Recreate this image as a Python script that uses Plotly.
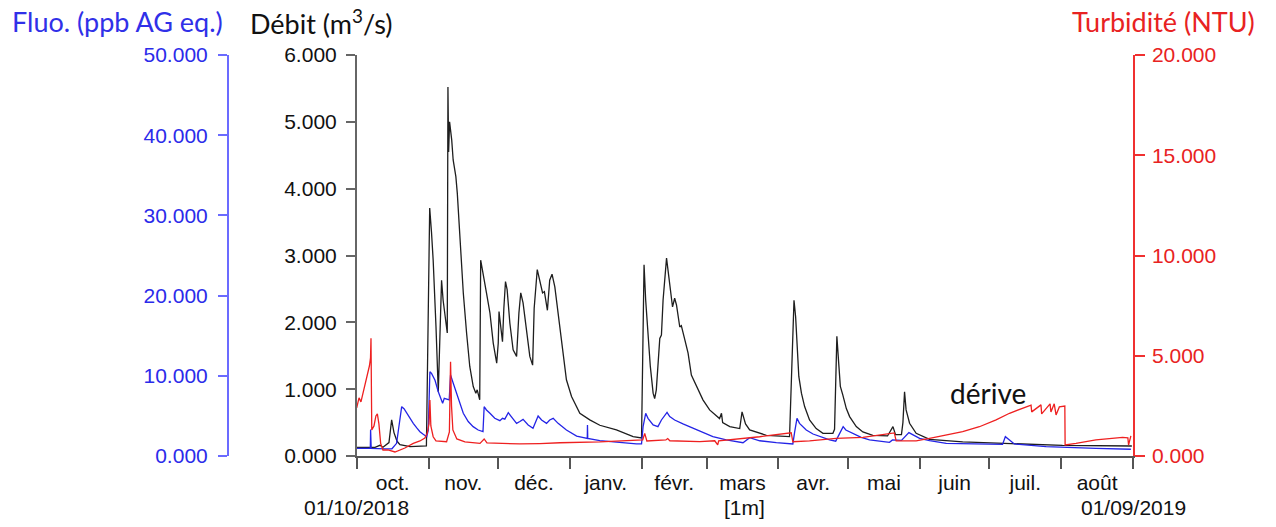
import plotly.graph_objects as go
import pandas as pd

# ---------------- data ----------------
month_starts = ["2018-10-01", "2018-11-01", "2018-12-01", "2019-01-01", "2019-02-01",
                "2019-03-01", "2019-04-01", "2019-05-01", "2019-06-01", "2019-07-01",
                "2019-08-01", "2019-09-01"]
month_labels = ["oct.", "nov.", "déc.", "janv.", "févr.", "mars", "avr.", "mai",
                "juin", "juil.", "août"]

debit_t = ["2018-10-01 00:00", "2018-10-08 22:00", "2018-10-11 00:00", "2018-10-12 08:00",
           "2018-10-14 22:00", "2018-10-16 02:00", "2018-10-17 02:00", "2018-10-18 10:00",
           "2018-10-19 16:00", "2018-10-24 00:00", "2018-10-31 02:00", "2018-10-31 17:00",
           "2018-11-01 12:00", "2018-11-02 07:00", "2018-11-03 00:00", "2018-11-04 05:00",
           "2018-11-05 05:00", "2018-11-05 22:00", "2018-11-06 15:00", "2018-11-07 07:00",
           "2018-11-08 10:00", "2018-11-09 02:00", "2018-11-09 09:00", "2018-11-09 16:00",
           "2018-11-10 02:00", "2018-11-11 00:00", "2018-11-11 15:00", "2018-11-12 19:00",
           "2018-11-13 10:00", "2018-11-14 05:00", "2018-11-15 07:00", "2018-11-16 00:00",
           "2018-11-17 10:00", "2018-11-18 19:00", "2018-11-20 07:00", "2018-11-21 10:00",
           "2018-11-22 00:00", "2018-11-22 22:00", "2018-11-23 02:00", "2018-11-23 12:00",
           "2018-11-24 14:00", "2018-11-26 00:00", "2018-11-27 12:00", "2018-11-28 22:00",
           "2018-11-30 10:00", "2018-12-01 02:00", "2018-12-01 10:00", "2018-12-02 22:00",
           "2018-12-03 12:00", "2018-12-04 05:00", "2018-12-04 22:00", "2018-12-06 02:00",
           "2018-12-07 12:00", "2018-12-09 00:00", "2018-12-10 00:00", "2018-12-10 19:00",
           "2018-12-11 19:00", "2018-12-13 07:00", "2018-12-14 17:00", "2018-12-15 22:00",
           "2018-12-16 14:00", "2018-12-17 22:00", "2018-12-19 00:00", "2018-12-20 05:00",
           "2018-12-21 00:00", "2018-12-22 07:00", "2018-12-23 07:00", "2018-12-24 07:00",
           "2018-12-25 12:00", "2018-12-26 22:00", "2018-12-28 10:00", "2018-12-30 12:00",
           "2019-01-01 17:00", "2019-01-05 07:00", "2019-01-09 14:00", "2019-01-13 22:00",
           "2019-01-21 02:00", "2019-01-28 07:00", "2019-01-31 22:00", "2019-02-01 10:00",
           "2019-02-02 00:00", "2019-02-02 17:00", "2019-02-03 17:00", "2019-02-04 17:00",
           "2019-02-05 22:00", "2019-02-06 14:00", "2019-02-07 07:00", "2019-02-08 00:00",
           "2019-02-08 19:00", "2019-02-09 12:00", "2019-02-10 05:00", "2019-02-11 17:00",
           "2019-02-13 02:00", "2019-02-14 07:00", "2019-02-15 05:00", "2019-02-16 00:00",
           "2019-02-17 10:00", "2019-02-18 02:00", "2019-02-19 14:00", "2019-02-21 00:00",
           "2019-02-22 10:00", "2019-02-24 14:00", "2019-02-27 10:00", "2019-03-02 07:00",
           "2019-03-06 14:00", "2019-03-07 10:00", "2019-03-07 22:00", "2019-03-11 00:00",
           "2019-03-15 07:00", "2019-03-16 07:00", "2019-03-17 19:00", "2019-03-19 14:00",
           "2019-03-26 19:00", "2019-04-05 19:00", "2019-04-06 22:00", "2019-04-07 17:00",
           "2019-04-08 10:00", "2019-04-09 00:00", "2019-04-09 19:00", "2019-04-10 22:00",
           "2019-04-12 07:00", "2019-04-14 10:00", "2019-04-17 07:00", "2019-04-20 05:00",
           "2019-04-24 12:00", "2019-04-25 05:00", "2019-04-25 17:00", "2019-04-26 05:00",
           "2019-04-27 00:00", "2019-04-27 17:00", "2019-04-28 19:00", "2019-04-30 07:00",
           "2019-05-01 17:00", "2019-05-04 14:00", "2019-05-07 10:00", "2019-05-11 17:00",
           "2019-05-18 02:00", "2019-05-20 10:00", "2019-05-21 12:00", "2019-05-24 02:00",
           "2019-05-24 17:00", "2019-05-25 10:00", "2019-05-26 02:00", "2019-05-27 14:00",
           "2019-05-30 10:00", "2019-06-05 05:00", "2019-06-19 12:00", "2019-07-03 22:00",
           "2019-07-18 07:00", "2019-08-01 14:00", "2019-08-31 12:00"]
debit_v = [0.13, 0.13, 0.16, 0.13,
           0.20, 0.54, 0.35, 0.22,
           0.17, 0.14, 0.15, 1.50,
           3.71, 3.34, 2.93, 1.94,
           0.96, 1.80, 2.63, 2.33,
           1.99, 1.84, 5.52, 4.55,
           5.00, 4.73, 4.43, 4.18,
           3.93, 3.43, 2.83, 2.44,
           1.84, 1.34, 1.04, 0.94,
           0.99, 0.87, 0.84, 2.93,
           2.74, 2.44, 2.14, 1.69,
           1.39, 1.69, 2.16, 1.71,
           2.21, 2.61, 2.49, 1.99,
           1.59, 1.49, 2.14, 2.44,
           2.29, 1.84, 1.49, 1.36,
           2.21, 2.79, 2.63, 2.44,
           2.46, 2.18, 2.63, 2.72,
           2.53, 2.14, 1.64, 1.14,
           0.89, 0.64, 0.54, 0.46,
           0.39, 0.29, 0.27, 1.80,
           2.86, 2.33, 1.84, 1.34,
           0.94, 0.86, 0.99, 1.44,
           1.76, 1.81, 2.33, 2.96,
           2.58, 2.23, 2.36, 2.26,
           1.93, 1.95, 1.74, 1.54,
           1.21, 1.04, 0.84, 0.69,
           0.56, 0.64, 0.50, 0.44,
           0.41, 0.66, 0.48, 0.39,
           0.31, 0.29, 1.50, 2.33,
           2.08, 1.59, 1.19, 0.94,
           0.74, 0.54, 0.41, 0.34,
           0.34, 0.40, 1.20, 1.79,
           1.39, 1.04, 0.91, 0.71,
           0.59, 0.44, 0.36, 0.31,
           0.30, 0.44, 0.32, 0.32,
           0.50, 0.96, 0.69, 0.49,
           0.34, 0.25, 0.21, 0.19,
           0.18, 0.16, 0.15]

fluo_t = ["2018-10-01 00:00", "2018-10-06 21:00", "2018-10-07 00:00", "2018-10-07 06:00",
          "2018-10-13 05:00", "2018-10-16 05:00", "2018-10-18 05:00", "2018-10-19 10:00",
          "2018-10-20 10:00", "2018-10-21 10:00", "2018-10-22 14:00", "2018-10-24 00:00",
          "2018-10-25 10:00", "2018-10-26 22:00", "2018-10-28 07:00", "2018-10-29 17:00",
          "2018-10-31 05:00", "2018-10-31 21:00", "2018-11-01 14:00", "2018-11-02 07:00",
          "2018-11-03 19:00", "2018-11-05 05:00", "2018-11-06 05:00", "2018-11-07 02:00",
          "2018-11-07 19:00", "2018-11-09 02:00", "2018-11-09 22:00", "2018-11-10 05:00",
          "2018-11-10 12:00", "2018-11-11 15:00", "2018-11-13 03:00", "2018-11-14 12:00",
          "2018-11-16 00:00", "2018-11-18 03:00", "2018-11-20 06:00", "2018-11-22 10:00",
          "2018-11-24 12:00", "2018-11-25 00:00", "2018-11-26 00:00", "2018-11-27 12:00",
          "2018-11-29 14:00", "2018-12-01 19:00", "2018-12-02 22:00", "2018-12-03 22:00",
          "2018-12-05 10:00", "2018-12-07 07:00", "2018-12-09 00:00", "2018-12-10 10:00",
          "2018-12-11 19:00", "2018-12-14 00:00", "2018-12-16 02:00", "2018-12-18 07:00",
          "2018-12-19 19:00", "2018-12-21 22:00", "2018-12-23 07:00", "2018-12-24 19:00",
          "2018-12-26 22:00", "2018-12-30 12:00", "2019-01-03 22:00", "2019-01-08 12:00",
          "2019-01-08 14:00", "2019-01-08 17:00", "2019-01-13 22:00", "2019-01-18 05:00",
          "2019-01-29 17:00", "2019-01-31 22:00", "2019-02-01 14:00", "2019-02-02 17:00",
          "2019-02-03 17:00", "2019-02-05 22:00", "2019-02-08 00:00", "2019-02-09 12:00",
          "2019-02-11 22:00", "2019-02-13 02:00", "2019-02-15 05:00", "2019-02-18 19:00",
          "2019-02-23 03:00", "2019-02-27 10:00", "2019-03-03 17:00", "2019-03-09 12:00",
          "2019-03-13 19:00", "2019-03-16 17:00", "2019-03-19 14:00", "2019-03-23 22:00",
          "2019-03-31 02:00", "2019-04-07 05:00", "2019-04-08 00:00", "2019-04-09 00:00",
          "2019-04-10 02:00", "2019-04-13 00:00", "2019-04-15 22:00", "2019-04-18 19:00",
          "2019-04-23 02:00", "2019-04-25 17:00", "2019-04-26 14:00", "2019-04-28 22:00",
          "2019-04-30 02:00", "2019-05-03 05:00", "2019-05-06 17:00", "2019-05-10 07:00",
          "2019-05-18 22:00", "2019-05-20 05:00", "2019-05-24 02:00", "2019-05-27 07:00",
          "2019-05-29 00:00", "2019-05-31 22:00", "2019-06-05 05:00", "2019-06-12 10:00",
          "2019-07-06 17:00", "2019-07-07 22:00", "2019-07-11 19:00", "2019-07-25 12:00",
          "2019-08-16 00:00", "2019-08-31 02:00"]
fluo_v = [0.96, 0.96, 3.30, 0.96,
          0.90, 0.90, 1.58, 4.49,
          6.15, 5.90, 5.32, 4.70,
          4.07, 3.50, 3.03, 2.70,
          2.41, 3.20, 10.50, 10.30,
          9.45, 8.02, 7.20, 6.57,
          7.20, 7.05, 7.00, 8.60,
          10.10, 9.10, 7.82, 6.57,
          5.32, 4.30, 3.66, 3.24,
          3.03, 6.15, 5.74, 5.32,
          4.70, 4.40, 4.70, 4.60,
          5.40, 4.70, 4.07, 4.30,
          4.57, 3.87, 3.45, 4.99,
          4.49, 4.07, 4.49, 4.70,
          4.07, 3.24, 2.49, 2.20,
          3.87, 2.20, 1.91, 1.78,
          1.50, 1.50, 3.66, 5.32,
          4.70, 3.87, 3.66, 4.49,
          5.45, 4.91, 4.49, 4.00,
          3.45, 2.91, 2.41, 2.00,
          1.75, 1.66, 2.28, 1.90,
          1.66, 1.50, 3.00, 4.70,
          4.07, 3.24, 2.74, 2.41,
          2.00, 1.85, 2.33, 3.66,
          3.24, 2.83, 2.33, 2.00,
          1.70, 2.00, 1.95, 2.91,
          2.62, 2.20, 1.91, 1.58,
          1.45, 2.41, 1.50, 1.16,
          0.96, 0.84]

turb_t = ["2018-10-01 00:00", "2018-10-02 00:00", "2018-10-02 20:00", "2018-10-04 03:00",
          "2018-10-05 10:00", "2018-10-06 12:00", "2018-10-06 23:00", "2018-10-07 04:00",
          "2018-10-07 12:00", "2018-10-08 11:00", "2018-10-09 07:00", "2018-10-09 22:00",
          "2018-10-10 14:00", "2018-10-11 08:00", "2018-10-12 08:00", "2018-10-14 12:00",
          "2018-10-17 12:00", "2018-10-19 16:00", "2018-10-21 19:00", "2018-10-25 10:00",
          "2018-10-28 07:00", "2018-10-30 10:00", "2018-10-31 10:00", "2018-11-01 05:00",
          "2018-11-01 14:00", "2018-11-02 00:00", "2018-11-03 00:00", "2018-11-04 05:00",
          "2018-11-08 19:00", "2018-11-10 00:00", "2018-11-10 12:00", "2018-11-10 22:00",
          "2018-11-11 12:00", "2018-11-13 05:00", "2018-11-16 17:00", "2018-11-23 05:00",
          "2018-11-25 00:00", "2018-11-26 05:00", "2018-12-10 10:00", "2018-12-19 00:00",
          "2018-12-27 17:00", "2019-01-13 22:00", "2019-01-31 02:00", "2019-02-01 10:00",
          "2019-02-02 07:00", "2019-02-03 05:00", "2019-02-11 10:00", "2019-02-12 05:00",
          "2019-02-13 03:00", "2019-02-26 00:00", "2019-03-04 12:00", "2019-03-05 19:00",
          "2019-03-06 05:00", "2019-03-15 07:00", "2019-03-23 22:00", "2019-04-06 12:00",
          "2019-04-07 05:00", "2019-04-14 10:00", "2019-04-25 22:00", "2019-05-07 10:00",
          "2019-05-19 14:00", "2019-05-21 00:00", "2019-05-21 19:00", "2019-05-30 10:00",
          "2019-06-05 05:00", "2019-06-12 10:00", "2019-06-19 12:00", "2019-06-26 17:00",
          "2019-07-03 22:00", "2019-07-09 17:00", "2019-07-15 10:00", "2019-07-19 00:00",
          "2019-07-19 07:00", "2019-07-23 07:00", "2019-07-23 14:00", "2019-07-27 05:00",
          "2019-07-27 14:00", "2019-07-29 00:00", "2019-07-29 19:00", "2019-07-31 05:00",
          "2019-08-02 14:00", "2019-08-02 17:00", "2019-08-07 10:00", "2019-08-16 00:00",
          "2019-08-27 12:00", "2019-08-29 19:00", "2019-08-30 02:00", "2019-08-31 02:00"]
turb_v = [2.40, 2.90, 2.70, 3.30,
          3.90, 4.50, 4.90, 5.87,
          1.30, 1.50, 2.00, 2.10,
          1.60, 0.63, 0.30, 0.30,
          0.20, 0.30, 0.40, 0.63,
          0.75, 0.90, 1.13, 1.60,
          2.79, 1.50, 0.96, 0.75,
          0.71, 1.20, 4.70, 2.50,
          1.30, 0.85, 0.70, 0.63,
          0.85, 0.65, 0.60, 0.62,
          0.66, 0.70, 0.76, 0.80,
          1.13, 0.75, 0.80, 0.87,
          0.76, 0.72, 0.76, 0.55,
          0.76, 0.85, 0.96, 1.16,
          0.71, 0.75, 0.88, 0.93,
          1.10, 1.15, 0.75, 0.75,
          0.88, 1.05, 1.21, 1.46,
          1.80, 2.13, 2.38, 2.54,
          2.20, 2.55, 2.10, 2.60,
          2.20, 2.60, 2.05, 2.45,
          2.49, 0.55, 0.63, 0.80,
          0.93, 0.90, 0.55, 1.00]

marker_t = ["2019-09-01"]
marker_v = [20.2]

debit_ticks = [0, 1, 2, 3, 4, 5, 6]
fluo_ticks = [0, 10, 20, 30, 40, 50]
turb_ticks = [0, 5, 10, 15, 20]

# ---------------- styling ----------------
OFF = 8                      # page body margin of the browser
W, H = 1276 - OFF, 527 - OFF

def rx(p):                   # reference pixel -> figure pixel
    return p - OFF

TOP, BOTTOM = rx(55), rx(456)
X0, X1 = rx(356.7), rx(1133.0)
BLUE_AX = rx(227.7)

C_BLACK = "#1e1e1e"
C_BLUE = "#2424e6"
C_RED = "#ee2020"
TICKFONT = "Liberation Sans, Arial, sans-serif"
TITLEFONT = "Lato, Carlito, sans-serif"

def py(p):
    return (BOTTOM - rx(p)) / (BOTTOM - TOP)

def px(p):
    return rx(p) / W

starts = pd.to_datetime(month_starts)
mids = [starts[i] + (starts[i + 1] - starts[i]) / 2 for i in range(len(starts) - 1)]

fig = go.Figure()
fig.add_trace(go.Scatter(x=debit_t, y=debit_v, mode="lines", yaxis="y",
                         line=dict(color=C_BLACK, width=1.3), name="Débit"))
fig.add_trace(go.Scatter(x=fluo_t, y=fluo_v, mode="lines", yaxis="y2",
                         line=dict(color=C_BLUE, width=1.3), name="Fluo"))
fig.add_trace(go.Scatter(x=turb_t, y=turb_v, mode="lines", yaxis="y3",
                         line=dict(color=C_RED, width=1.3), name="Turbidité"))
fig.add_trace(go.Scatter(x=marker_t, y=marker_v, mode="markers", yaxis="y3",
                         marker=dict(symbol="square", size=7, color="#1010e0"),
                         cliponaxis=False, name="marker"))

fig.update_layout(
    width=W, height=H,
    margin=dict(l=0, r=0, t=TOP, b=H - BOTTOM, pad=0),
    paper_bgcolor="white", plot_bgcolor="white",
    showlegend=False,
    xaxis=dict(
        type="date", domain=[X0 / W, X1 / W],
        range=[month_starts[0], month_starts[-1]],
        showgrid=False, zeroline=False,
        showline=True, linecolor="#555555", linewidth=1.5,
        tickmode="array", tickvals=mids, ticktext=month_labels,
        ticks="", ticklabelstandoff=7,
        tickfont=dict(family=TICKFONT, size=21, color="#111111"),
        minor=dict(tickmode="array", tickvals=month_starts, ticks="outside",
                   ticklen=11, tickwidth=1.5, tickcolor="#555555", showgrid=False),
    ),
    yaxis=dict(
        range=[0, 6], tickmode="array", tickvals=debit_ticks, tickformat=".3f",
        showgrid=False, zeroline=False,
        showline=True, linecolor="#666666", linewidth=1.5,
        ticks="outside", ticklen=9, tickwidth=1.5, tickcolor="#666666",
        ticklabelstandoff=5,
        tickfont=dict(family=TICKFONT, size=21, color="#111111"),
    ),
    yaxis2=dict(
        overlaying="y", side="left", anchor="free", position=BLUE_AX / W,
        range=[0, 50], tickmode="array", tickvals=fluo_ticks, tickformat=".3f",
        showgrid=False, zeroline=False,
        showline=True, linecolor="#6b6bff", linewidth=1.5,
        ticks="outside", ticklen=9, tickwidth=1.5, tickcolor="#6b6bff",
        ticklabelstandoff=6,
        tickfont=dict(family=TICKFONT, size=21, color="#2b2bea"),
    ),
    yaxis3=dict(
        overlaying="y", side="right", anchor="x",
        range=[0, 20], tickmode="array", tickvals=turb_ticks, tickformat=".3f",
        showgrid=False, zeroline=False,
        showline=True, linecolor="#f03030", linewidth=1.5,
        ticks="outside", ticklen=10, tickwidth=1.5, tickcolor="#f03030",
        ticklabelstandoff=3,
        tickfont=dict(family=TICKFONT, size=21, color="#e82222"),
    ),
)

ann = [
    dict(text="Fluo. (ppb AG eq.)", x=px(10), y=py(22), xanchor="left",
         font=dict(family=TITLEFONT, size=27, color="#3030e8")),
    dict(text="Débit (m<sup>3</sup>/s)", x=px(248), y=py(22), xanchor="left",
         font=dict(family=TITLEFONT, size=27, color="#111111")),
    dict(text="Turbidité (NTU)", x=px(1257), y=py(22), xanchor="right",
         font=dict(family=TITLEFONT, size=27, color="#e82222")),
    dict(text="dérive", x=px(988), y=py(393), xanchor="center",
         font=dict(family=TITLEFONT, size=28, color="#111111")),
    dict(text="01/10/2018", x=px(356.7), y=py(508), xanchor="center",
         font=dict(family=TICKFONT, size=21, color="#111111")),
    dict(text="[1m]", x=px((356.7 + 1133.0) / 2), y=py(508), xanchor="center",
         font=dict(family=TICKFONT, size=21, color="#111111")),
    dict(text="01/09/2019", x=px(1133.0), y=py(508), xanchor="center",
         font=dict(family=TICKFONT, size=21, color="#111111")),
]
for a in ann:
    fig.add_annotation(xref="paper", yref="paper", yanchor="middle",
                       showarrow=False, **a)

fig.write_html("out.html")
